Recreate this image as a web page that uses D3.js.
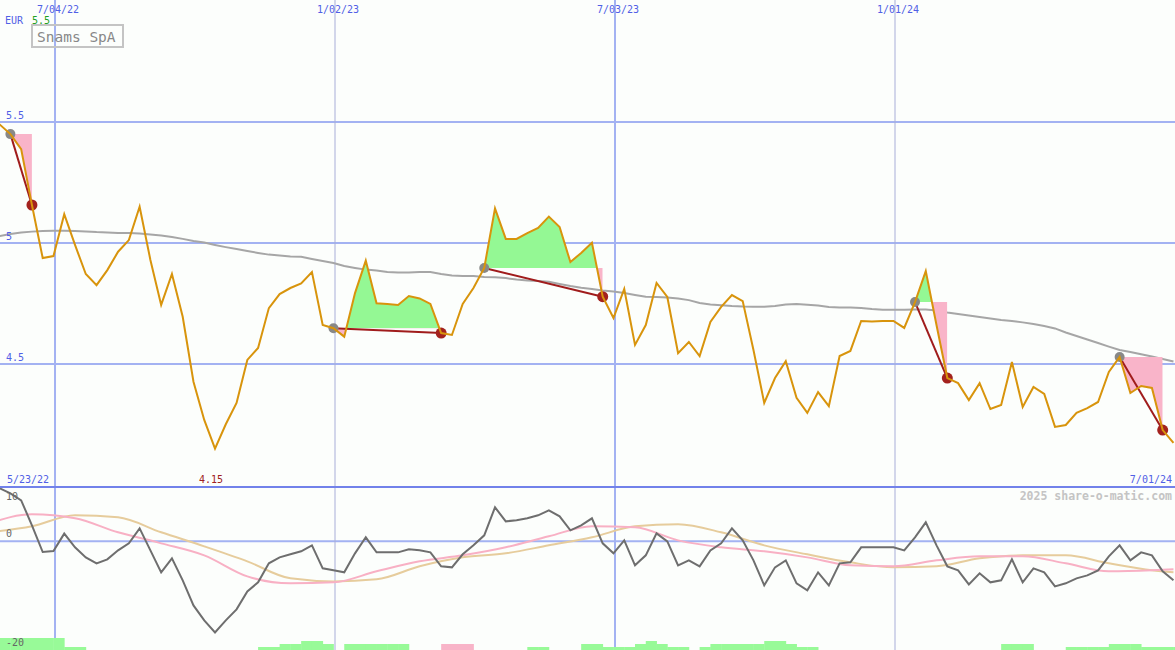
<!DOCTYPE html>
<html><head><meta charset="utf-8">
<script src="https://cdn.jsdelivr.net/npm/d3@7"></script>
<style>
html,body{margin:0;padding:0;background:#fcfefc;}
svg{display:block;}
text{font-family:"DejaVu Sans Mono",monospace;}
</style></head>
<body>
<svg id="c" width="1175" height="650"></svg>
<script>
// ---------- DATA ----------
const axisStart = "2022-05-23";
const axisEnd = "2024-07-01";
const dataStart = "2022-05-22";            // first weekly close
const dateTickLabels = ["7/04/22", "1/02/23", "7/03/23", "1/01/24"];
const dateTicks = ["2022-07-04", "2023-01-02", "2023-07-03", "2024-01-01"];
const yearTicks = ["2023-01-02", "2024-01-01"];
const priceTicks = [5.5, 5, 4.5];
const priceTickLabels = ["5.5", "5", "4.5"];
const oscTicks = [10, 0, -20];
const oscTickLabels = ["10", "0", "-20"];

// weekly close (EUR)
const price = [5.525,5.490,5.450,5.388,5.157,4.938,4.946,5.119,4.992,4.872,
4.826,4.888,4.964,5.012,5.150,4.930,4.744,4.872,4.695,4.427,
4.269,4.150,4.251,4.339,4.517,4.566,4.731,4.789,4.814,4.833,
4.880,4.661,4.648,4.613,4.793,4.927,4.751,4.748,4.744,4.781,
4.771,4.748,4.628,4.620,4.748,4.814,4.897,5.143,5.017,5.017,
5.041,5.062,5.109,5.066,4.921,4.959,5.001,4.778,4.690,4.810,
4.579,4.661,4.835,4.777,4.545,4.591,4.533,4.674,4.736,4.785,
4.760,4.558,4.339,4.442,4.512,4.360,4.298,4.384,4.326,4.533,
4.554,4.678,4.676,4.678,4.678,4.649,4.756,4.884,4.660,4.442,
4.421,4.351,4.421,4.314,4.331,4.508,4.322,4.405,4.376,4.240,
4.248,4.298,4.318,4.343,4.467,4.529,4.380,4.409,4.401,4.227,4.174];

// long moving average (grey)
const movingAvg = [5.017,5.029,5.037,5.043,5.047,5.050,5.051,5.051,5.050,5.048,
5.045,5.043,5.041,5.041,5.039,5.035,5.031,5.025,5.017,5.008,
5.002,4.992,4.983,4.975,4.967,4.959,4.952,4.948,4.944,4.943,
4.934,4.926,4.917,4.905,4.897,4.890,4.886,4.880,4.878,4.878,
4.880,4.880,4.872,4.866,4.864,4.864,4.860,4.858,4.855,4.849,
4.845,4.843,4.840,4.831,4.822,4.815,4.810,4.804,4.800,4.793,
4.785,4.778,4.777,4.775,4.771,4.764,4.752,4.746,4.743,4.740,
4.738,4.737,4.737,4.740,4.746,4.748,4.745,4.742,4.736,4.733,
4.733,4.731,4.727,4.724,4.724,4.724,4.725,4.725,4.721,4.713,
4.707,4.700,4.694,4.688,4.682,4.678,4.672,4.665,4.657,4.647,
4.630,4.616,4.601,4.587,4.572,4.558,4.550,4.540,4.531,4.521,4.510];

// signal segments (week indices): start (grey dot) -> end (red dot)
const signalStart = [2, 32, 46, 86, 105];
const signalEnd   = [4, 42, 57, 89, 109];

// oscillator (dark grey), weekly
const osc = [10.50,9.76,8.84,7.55,2.95,-1.97,-1.79,1.42,-1.10,-2.95,
-4.05,-3.31,-1.66,-0.37,2.39,-1.66,-5.71,-3.13,-7.18,-11.79,
-14.55,-16.76,-14.55,-12.52,-9.21,-7.55,-4.05,-2.95,-2.39,-1.84,
-0.74,-4.97,-5.34,-5.71,-2.21,0.74,-2.03,-2.03,-2.03,-1.47,
-1.66,-2.03,-4.60,-4.79,-2.39,-0.74,1.10,6.26,3.68,3.87,
4.24,4.79,5.71,4.60,2.03,2.95,4.24,-0.37,-2.21,0.18,
-4.42,-2.58,1.47,0.00,-4.42,-3.50,-4.60,-1.66,-0.37,2.39,
0.18,-3.50,-8.10,-4.79,-3.50,-7.73,-9.02,-5.71,-8.10,-4.05,
-3.87,-1.10,-1.10,-1.10,-1.10,-1.66,0.74,3.50,-0.74,-4.60,
-5.34,-7.92,-5.89,-7.55,-7.18,-3.31,-7.55,-4.97,-5.71,-8.29,
-7.73,-6.81,-6.26,-5.34,-2.76,-0.74,-3.50,-2.03,-2.58,-5.52,-7.18];

// smoothed oscillator lines, sampled every 4 weeks (last at week 110)
const smoothWeeks = [0,4,8,12,16,20,24,28,32,36,40,44,48,52,56,60,64,68,72,76,80,84,88,92,96,100,104,108,110];
const pinkLine = [3.31,4.97,4.24,1.66,-0.37,-2.58,-6.45,-7.73,-7.55,-5.52,-3.68,-2.58,-1.10,0.92,2.76,2.58,0.18,-1.10,-1.84,-2.95,-4.42,-4.60,-3.50,-2.76,-2.76,-4.05,-5.52,-5.34,-5.16];
const tanLine  = [1.66,2.76,4.79,4.42,1.66,-0.92,-3.68,-6.81,-7.37,-7.00,-4.60,-2.95,-2.21,-0.74,0.74,2.76,3.13,1.66,-0.74,-2.39,-3.87,-4.79,-4.60,-3.13,-2.58,-2.58,-4.05,-5.34,-5.71];

// bottom histogram (weekly, bar spans to next week), positive = green, negative = pink
const histo = [12,12,12,12,12,12,12,3,3,0,0,0,0,0,0,0,0,0,0,0,
0,0,0,0,0,3,3,6,6,9,9,6,0,6,6,6,6,6,6,0,
0,0,-6,-6,-6,0,0,0,0,0,3,3,0,0,0,6,6,3,3,3,
6,9,6,3,3,0,3,6,6,6,6,6,9,9,6,3,3,0,0,0,
0,0,0,0,0,0,0,0,0,0,0,0,0,0,6,6,6,0,0,0,
3,3,3,3,6,6,6,3,3,3,3];

const maxLabel = "5.5";
const minLabel = "4.15";
const titleText = "Snams SpA";
const currency = "EUR";
const firstLabel = "5/23/22";
const lastLabel = "7/01/24";
const credit = "2025 share-o-matic.com";

// ---------- CHART ----------
const W = 1175, H = 650;
const svg = d3.select("#c");
const parse = d3.timeParse("%Y-%m-%d");
const t0 = parse(dataStart);
const dates = price.map((_, i) => d3.timeDay.offset(t0, 7 * i));
const x = d3.scaleTime().domain([parse(axisStart), parse(axisEnd)]).range([-9.6, 1175]);
const yP = d3.scaleLinear().domain([4.5, 5.5]).range([364, 122]);
const yO = d3.scaleLinear().domain([-20, 10]).range([650, 487]);
const yH = d3.scaleLinear().domain([0, 10]).range([0, 10]);

const blueGrid = "#a3b2f2", blueText = "#5060e6";
const defs = svg.append("defs");
defs.append("clipPath").attr("id", "lower").append("rect")
  .attr("x", 0).attr("y", 488).attr("width", W).attr("height", H - 488);

// horizontal grid (price)
svg.append("g").selectAll("line").data(priceTicks).join("line")
  .attr("x1", 0).attr("x2", W).attr("y1", d => yP(d)).attr("y2", d => yP(d))
  .attr("stroke", blueGrid).attr("stroke-width", 2);
// oscillator zero line
svg.append("line").attr("x1", 0).attr("x2", W).attr("y1", yO(0)).attr("y2", yO(0))
  .attr("stroke", blueGrid).attr("stroke-width", 2);
// vertical grid
svg.append("g").selectAll("line").data(dateTicks).join("line")
  .attr("x1", d => x(parse(d))).attr("x2", d => x(parse(d)))
  .attr("y1", 0).attr("y2", H)
  .attr("stroke", d => yearTicks.includes(d) ? "#a8aed8" : blueGrid)
  .attr("stroke-width", d => yearTicks.includes(d) ? 1 : 2);

// histogram bars
svg.append("g").selectAll("rect").data(histo.map((v, i) => ({v, i})).filter(d => d.v !== 0)).join("rect")
  .attr("x", d => x(dates[d.i]))
  .attr("width", d => x(d3.timeDay.offset(dates[d.i], 7)) - x(dates[d.i]) + 0.4)
  .attr("y", d => H - yH(Math.abs(d.v))).attr("height", d => yH(Math.abs(d.v)))
  .attr("fill", d => d.v > 0 ? "#98fa98" : "#f8b4c8");

// oscillator lines
const lower = svg.append("g").attr("clip-path", "url(#lower)");
const smLine = d3.line().x(d => x(dates[d[0]])).y(d => yO(d[1])).curve(d3.curveMonotoneX);
lower.append("path").attr("d", smLine(smoothWeeks.map((w, i) => [w, tanLine[i]])))
  .attr("fill", "none").attr("stroke", "#e6cc9c").attr("stroke-width", 2);
lower.append("path").attr("d", smLine(smoothWeeks.map((w, i) => [w, pinkLine[i]])))
  .attr("fill", "none").attr("stroke", "#f8b0c4").attr("stroke-width", 2);
const oLine = d3.line().x((d, i) => x(dates[i])).y(d => yO(d));
lower.append("path").attr("d", oLine(osc)).attr("fill", "none")
  .attr("stroke", "#6e6e6e").attr("stroke-width", 2);

// panel separator
svg.append("line").attr("x1", 0).attr("x2", W).attr("y1", 487).attr("y2", 487)
  .attr("stroke", "#7282ea").attr("stroke-width", 2);

// moving average
const pLine = d3.line().x((d, i) => x(dates[i])).y(d => yP(d));
svg.append("path").attr("d", pLine(movingAvg)).attr("fill", "none")
  .attr("stroke", "#a6a6a6").attr("stroke-width", 2);

// signal fills
signalStart.forEach((s, j) => {
  const e = signalEnd[j];
  const base = price[s];
  const seg = d3.range(s, e + 1);
  const area = d3.area().x(i => x(dates[i])).y0(yP(base)).y1(i => yP(price[i]));
  const x0 = x(dates[s]), x1 = x(dates[e]);
  defs.append("clipPath").attr("id", "up" + j).append("rect")
    .attr("x", x0).attr("y", 0).attr("width", x1 - x0).attr("height", yP(base));
  defs.append("clipPath").attr("id", "dn" + j).append("rect")
    .attr("x", x0).attr("y", yP(base)).attr("width", x1 - x0).attr("height", 487 - yP(base));
  svg.append("path").attr("d", area(seg)).attr("fill", "#94f894").attr("clip-path", `url(#up${j})`);
  svg.append("path").attr("d", area(seg)).attr("fill", "#f9b4c9").attr("clip-path", `url(#dn${j})`);
});
// signal lines
svg.append("g").selectAll("line").data(signalStart.map((s, j) => [s, signalEnd[j]])).join("line")
  .attr("x1", d => x(dates[d[0]])).attr("y1", d => yP(price[d[0]]))
  .attr("x2", d => x(dates[d[1]])).attr("y2", d => yP(price[d[1]]))
  .attr("stroke", "#a01c1c").attr("stroke-width", 2);
svg.append("g").selectAll("circle").data(signalStart).join("circle")
  .attr("cx", d => x(dates[d])).attr("cy", d => yP(price[d])).attr("r", 5).attr("fill", "#888888");
svg.append("g").selectAll("circle").data(signalEnd).join("circle")
  .attr("cx", d => x(dates[d])).attr("cy", d => yP(price[d])).attr("r", 5.5).attr("fill", "#a3221e");

// price line
svg.append("path").attr("d", pLine(price)).attr("fill", "none")
  .attr("stroke", "#d8940c").attr("stroke-width", 2).attr("stroke-linejoin", "miter");

// ---------- TEXT ----------
const txt = (s, xx, yy, col, opts = {}) => svg.append("text").text(s)
  .attr("x", xx).attr("y", yy).attr("fill", col)
  .attr("font-size", opts.size || 10).attr("text-anchor", opts.anchor || "start")
  .attr("font-weight", opts.weight || "normal");

dateTicks.forEach((d, i) => txt(dateTickLabels[i], x(parse(d)) + 3, 13, blueText, {anchor: "middle"}));
txt(currency, 5, 24, blueText);
txt(maxLabel, 32, 24, "#22a022");
svg.append("rect").attr("x", 32).attr("y", 25).attr("width", 91).attr("height", 22)
  .attr("fill", "none").attr("stroke", "#c4c4c4").attr("stroke-width", 2);
txt(titleText, 37, 42, "#888888", {size: 14.5});

priceTicks.forEach((v, i) => txt(priceTickLabels[i], 6, yP(v) - 3, blueText));
txt(firstLabel, 7, 483, blueText);
txt(minLabel, 199, 483, "#a02020");
txt(lastLabel, 1172, 483, blueText, {anchor: "end"});
txt(credit, 1172, 500, "#c4c4c4", {anchor: "end", size: 11.5, weight: "bold"});
oscTicks.forEach((v, i) => {
  const yy = v === 10 ? 500 : yO(v) - 4;
  txt(oscTickLabels[i], 6, yy, "#666666");
});
</script>
</body></html>
